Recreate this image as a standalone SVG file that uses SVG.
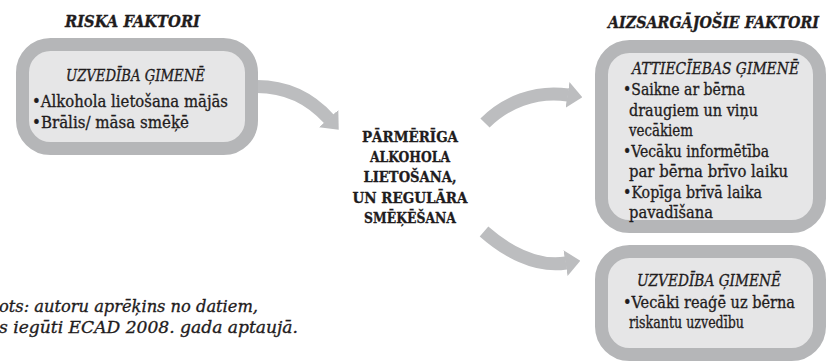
<svg xmlns="http://www.w3.org/2000/svg" width="827" height="363" viewBox="0 0 827 363">
<defs>
<style>
.box{fill:#e6e6e7;stroke:#b5b6b8;stroke-width:13}
.arr{fill:none;stroke:#bcbdbf;stroke-width:13;stroke-linecap:butt}
text{font-family:"DejaVu Serif Condensed","DejaVu Serif","Liberation Serif",serif;fill:#1f1c1d;stroke:#1f1c1d;stroke-width:0.3}
.ttl{font-size:16px;font-weight:bold;font-style:italic}
.hd{font-size:16.5px;font-style:italic}
.tx{font-size:16.5px}
.ctr{font-size:15.5px;font-weight:bold;text-anchor:middle}
.fn{font-size:16px;font-style:italic}
</style>
<marker id="ah" viewBox="0 0 15 26" refX="0.5" refY="13" markerWidth="15" markerHeight="26" markerUnits="userSpaceOnUse" orient="auto">
<path d="M0,0 L15,13 L0,26 Z" fill="#bcbdbf"/>
</marker>
</defs>

<g id="titles">
<text class="ttl" x="65" y="27" textLength="135" lengthAdjust="spacingAndGlyphs">RISKA FAKTORI</text>
<text class="ttl" x="608" y="27.5" textLength="211" lengthAdjust="spacingAndGlyphs">AIZSARGĀJOŠIE FAKTORI</text>
</g>

<g id="connectors">
<path class="arr" d="M255 86.5 C285 86 310 98 329 119" marker-end="url(#ah)"/>
<path class="arr" d="M485 123 C505 103 535 90 568 95" marker-end="url(#ah)"/>
<path class="arr" d="M484 231.5 C505 250 535 268 566 263" marker-end="url(#ah)"/>
</g>

<g id="risk-box">
<rect class="box" x="22.5" y="44.5" width="229" height="104" rx="28"/>
<text class="hd" x="66" y="81" textLength="139" lengthAdjust="spacingAndGlyphs">UZVEDĪBA ĢIMENĒ</text>
<text class="tx" x="32" y="107" textLength="196" lengthAdjust="spacingAndGlyphs">•Alkohola lietošana mājās</text>
<text class="tx" x="32" y="128" textLength="157" lengthAdjust="spacingAndGlyphs">•Brālis/ māsa smēķē</text>
</g>

<g id="center">
<text class="ctr" x="410" y="142" textLength="96" lengthAdjust="spacingAndGlyphs">PĀRMĒRĪGA</text>
<text class="ctr" x="410" y="162" textLength="80" lengthAdjust="spacingAndGlyphs">ALKOHOLA</text>
<text class="ctr" x="410" y="182" textLength="93" lengthAdjust="spacingAndGlyphs">LIETOŠANA,</text>
<text class="ctr" x="410" y="203" textLength="115" lengthAdjust="spacingAndGlyphs">UN REGULĀRA</text>
<text class="ctr" x="410" y="223" textLength="92" lengthAdjust="spacingAndGlyphs">SMĒĶĒŠANA</text>
</g>

<g id="relations-box">
<rect class="box" x="601.5" y="46.5" width="218" height="180" rx="28"/>
<text class="hd" x="632" y="74" textLength="167" lengthAdjust="spacingAndGlyphs">ATTIECĪEBAS ĢIMENĒ</text>
<text class="tx" x="623" y="95" textLength="122" lengthAdjust="spacingAndGlyphs">•Saikne ar bērna</text>
<text class="tx" x="629" y="115.5" textLength="129" lengthAdjust="spacingAndGlyphs">draugiem un viņu</text>
<text class="tx" x="629" y="136" textLength="64" lengthAdjust="spacingAndGlyphs">vecākiem</text>
<text class="tx" x="623" y="156.5" textLength="146" lengthAdjust="spacingAndGlyphs">•Vecāku informētība</text>
<text class="tx" x="629" y="177" textLength="159" lengthAdjust="spacingAndGlyphs">par bērna brīvo laiku</text>
<text class="tx" x="623" y="197.5" textLength="139" lengthAdjust="spacingAndGlyphs">•Kopīga brīvā laika</text>
<text class="tx" x="629" y="218" textLength="84" lengthAdjust="spacingAndGlyphs">pavadīšana</text>
</g>

<g id="behaviour-box">
<rect class="box" x="601.5" y="251.5" width="218" height="103" rx="28"/>
<text class="hd" x="637" y="286" textLength="144" lengthAdjust="spacingAndGlyphs">UZVEDĪBA ĢIMENĒ</text>
<text class="tx" x="623" y="308" textLength="172" lengthAdjust="spacingAndGlyphs">•Vecāki reaģē uz bērna</text>
<text class="tx" x="629" y="328" textLength="115" lengthAdjust="spacingAndGlyphs">riskantu uzvedību</text>
</g>

<g id="footnote">
<text class="fn" x="-1" y="312" textLength="259" lengthAdjust="spacingAndGlyphs">ots: autoru aprēķins no datiem,</text>
<text class="fn" x="-1" y="333" textLength="299" lengthAdjust="spacingAndGlyphs">s iegūti ECAD 2008. gada aptaujā.</text>
</g>
</svg>
